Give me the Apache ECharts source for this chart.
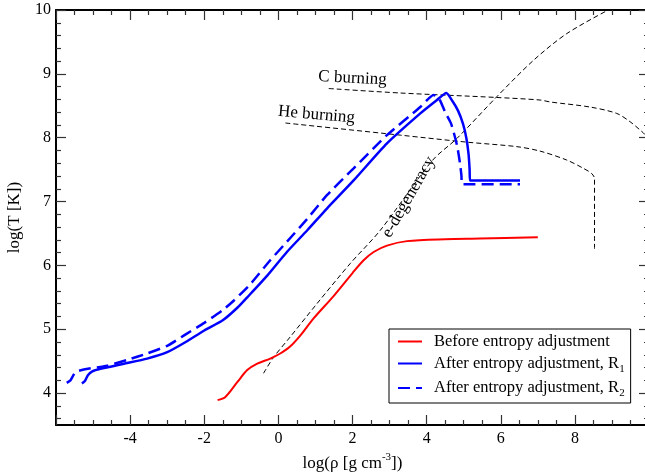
<!DOCTYPE html>
<html>
<head>
<meta charset="utf-8">
<script src="https://cdn.jsdelivr.net/npm/echarts@6/dist/echarts.min.js"></script>
<style>
html,body{margin:0;padding:0;background:#fff;}
#chart{width:645px;height:476px;}
</style>
</head>
<body>
<div id="chart"></div>
<script>
// ---- data (log rho, log T) ----
const beforeAdj = [[-1.64,3.89],[-1.43,3.94],[-1.11,4.17],[-0.84,4.36],[-0.57,4.46],[-0.22,4.54],[0.05,4.62],[0.30,4.72],[0.59,4.90],[0.95,5.17],[1.49,5.52],[2.00,5.88],[2.30,6.08],[2.57,6.21],[2.93,6.31],[3.47,6.38],[4.50,6.41],[5.44,6.42],[7.00,6.44]];
const afterR1 = [[-5.30,4.15],[-5.22,4.19],[-5.14,4.28],[-5.02,4.34],[-4.80,4.38],[-4.17,4.46],[-3.54,4.54],[-3.00,4.64],[-2.50,4.80],[-2.00,4.98],[-1.50,5.14],[-1.10,5.34],[-0.84,5.50],[-0.30,5.84],[0.23,6.21],[0.78,6.55],[1.31,6.89],[2.03,7.33],[2.93,7.91],[3.83,8.38],[4.28,8.59],[4.53,8.70],[4.70,8.57],[4.85,8.42],[4.98,8.22],[5.07,8.00],[5.13,7.75],[5.16,7.50],[5.17,7.33],[6.52,7.33]];
const afterR2 = [[-5.71,4.16],[-5.61,4.20],[-5.53,4.28],[-5.47,4.33],[-5.25,4.37],[-4.62,4.43],[-4.08,4.52],[-3.54,4.62],[-3.00,4.74],[-2.50,4.92],[-2.00,5.10],[-1.50,5.30],[-1.20,5.45],[-0.75,5.71],[-0.22,6.08],[0.23,6.37],[0.78,6.73],[1.31,7.10],[2.03,7.52],[2.93,8.04],[3.83,8.48],[4.19,8.67],[4.33,8.62],[4.50,8.40],[4.66,8.22],[4.82,7.88],[4.90,7.60],[4.94,7.40],[4.95,7.27],[6.52,7.27]];
const eDegeneracy = [[-0.40,4.31],[-0.13,4.56],[0.32,4.88],[1.04,5.40],[1.94,6.03],[2.75,6.55],[4.15,7.64],[4.82,7.99],[5.89,8.64],[6.88,9.21],[7.78,9.63],[8.90,10.0]];
const cBurning = [[1.36,8.77],[3.29,8.70],[5.89,8.63],[7.06,8.59],[7.33,8.56],[8.41,8.48],[9.13,8.38],[9.49,8.25],[9.76,8.12],[9.89,8.05],[10.0,7.95]];
const heBurning = [[0.19,8.23],[3.29,8.04],[5.09,7.93],[6.43,7.86],[7.06,7.79],[7.78,7.65],[8.23,7.52],[8.45,7.44],[8.53,7.36],[8.53,6.26]];

const seriesNames = ['Before entropy adjustment','After entropy adjustment, R1','After entropy adjustment, R2'];
const xTickLabels = [-4,-2,0,2,4,6,8];
const yTickLabels = [4,5,6,7,8,9,10];
const annotations = [
  {text:'C burning', at:[2.0,8.93], rot:-2.8},
  {text:'He burning', at:[1.03,8.36], rot:-5},
  {text:'e-degeneracy', at:[3.52,7.07], rot:60}
];

const FONT = '"Liberation Serif","Times New Roman",serif';
const yMinor = [];
for (let v = 3.6; v < 10; v += 0.2) {
  const r = Math.round(v*10)/10;
  if (Math.abs(r - Math.round(r)) > 1e-6) yMinor.push(r);
}

const chart = echarts.init(document.getElementById('chart'), null, {renderer:'canvas'});

function xAxisDef(pos, labels) {
  return {
    type:'value', position:pos, min:-6, max:10, interval:2,
    axisLine:{show:true, onZero:false, lineStyle:{color:'#000', width:2}},
    axisTick:{show:true, inside:true, length:10, lineStyle:{color:'#333', width:1.2}},
    minorTick:{show:true, splitNumber:4, length:5, lineStyle:{color:'#333', width:1.2}},
    splitLine:{show:false}, minorSplitLine:{show:false},
    axisLabel:{show:labels, customValues:xTickLabels, fontFamily:FONT, fontSize:16, color:'#000', margin:6},
    name: labels ? '{a|log(ρ [g cm}{s|-3}{a|])}' : '',
    nameLocation:'middle', nameGap:19,
    nameTextStyle:{fontFamily:FONT, color:'#000', rich:{
      a:{fontFamily:FONT, fontSize:17, lineHeight:24, color:'#000'},
      s:{fontFamily:FONT, fontSize:11, verticalAlign:'top', color:'#000'}
    }}
  };
}
function yAxisDef(pos, major, labels, withName) {
  return {
    type:'value', position:pos, min:3.5, max:10,
    axisLine:{show:major, onZero:false, lineStyle:{color:'#000', width:2}},
    axisTick:{show:true, inside:true, length: major?10:5, customValues: major?yTickLabels:yMinor, lineStyle:{color:'#333', width:1.2}},
    splitLine:{show:false},
    axisLabel:{show:labels, customValues:yTickLabels, fontFamily:FONT, fontSize:16, color:'#000', margin:5},
    name: withName ? 'log(T [K])' : '',
    nameLocation:'middle', nameGap:33, nameRotate:90,
    nameTextStyle:{fontFamily:FONT, fontSize:17, color:'#000'}
  };
}

function lineSeries(name, data, color, width, type, smooth) {
  return {
    name, type:'line', data, xAxisIndex:0, yAxisIndex:0,
    showSymbol:false, symbol:'none', smooth:smooth, silent:true,
    lineStyle:{color, width, type}, itemStyle:{color}, z:3
  };
}
function guide(data) {
  return {
    type:'line', data, xAxisIndex:0, yAxisIndex:0, showSymbol:false, symbol:'none',
    smooth:0.3, silent:true, lineStyle:{color:'#000', width:1, type:[5,3]}, z:2
  };
}

const option = {
  animation:false,
  backgroundColor:'#fff',
  grid:{left:56, top:10, right:-4, bottom:51, containLabel:false, outerBoundsMode:'none'},
  xAxis:[xAxisDef('bottom', true), xAxisDef('top', false)],
  yAxis:[yAxisDef('left', true, true, true), yAxisDef('left', false, false, false),
         yAxisDef('right', true, false, false), yAxisDef('right', false, false, false)],
  legend:{
    data:seriesNames, orient:'vertical', left:389, top:329,
    padding:[4,6,4,8], itemGap:5, itemWidth:24, itemHeight:14,
    backgroundColor:'#fff', borderColor:'#000', borderWidth:1, borderRadius:0,
    selectedMode:false,
    itemStyle:{opacity:0, color:'transparent', borderWidth:0},
    formatter: function(n){
      if (n.endsWith('R1')) return '{n|After entropy adjustment, R}{b|1}';
      if (n.endsWith('R2')) return '{n|After entropy adjustment, R}{b|2}';
      return '{n|' + n + '}';
    },
    textStyle:{fontFamily:FONT, fontSize:16.5, color:'#000', padding:[0,0,0,7], rich:{
      n:{fontFamily:FONT, fontSize:16.5, lineHeight:22, color:'#000'},
      b:{fontFamily:FONT, fontSize:11, verticalAlign:'bottom', color:'#000'}
    }}
  },
  series:[
    guide(eDegeneracy), guide(cBurning), guide(heBurning),
    lineSeries(seriesNames[0], beforeAdj, '#ff0000', 2, 'solid', 0.3),
    lineSeries(seriesNames[1], afterR1, '#0000ff', 2.5, 'solid', 0.2),
    lineSeries(seriesNames[2], afterR2, '#0000ff', 2.5, [12,6], 0.2)
  ]
};
chart.setOption(option);

const g = annotations.map(a => {
  const p = chart.convertToPixel({xAxisIndex:0, yAxisIndex:0}, a.at);
  return {
    type:'text', x:p[0], y:p[1], rotation:a.rot*Math.PI/180, z:10, silent:true,
    style:{text:a.text, font:'17px ' + FONT, fill:'#000', align:'center', verticalAlign:'middle',
           textAlign:'center', textVerticalAlign:'middle'}
  };
});
chart.setOption({graphic:g});
</script>
</body>
</html>
